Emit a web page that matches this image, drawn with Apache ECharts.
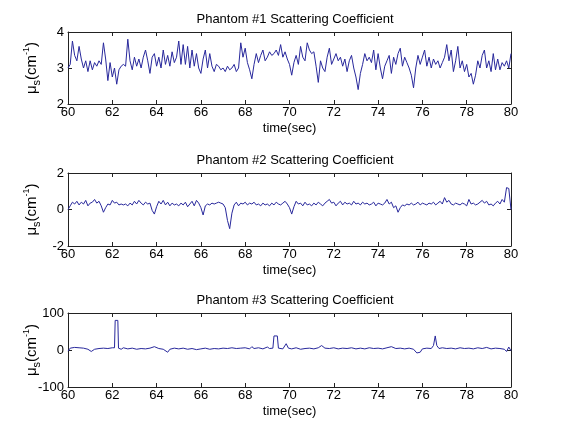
<!DOCTYPE html>
<html>
<head>
<meta charset="utf-8">
<script src="https://cdn.jsdelivr.net/npm/echarts@6/dist/echarts.min.js"></script>
<style>
  html, body { margin: 0; padding: 0; background: #fff; }
  #chart { width: 576px; height: 431px; }
</style>
</head>
<body>
<div id="chart"></div>
<script>
// sampling of panels 1 and 2 (seconds)
const tStart = 60;
const tStep = 0.1;

// Phantom #1, 60.0 .. 80.0 s
const phantom1 = [
  3.00, 3.10, 3.75, 3.35, 3.20, 3.60, 3.25, 3.00, 3.20, 2.90,
  3.20, 2.95, 3.15, 3.05, 3.20, 3.10, 3.70, 3.25, 2.65, 3.15,
  2.75, 3.00, 2.55, 2.95, 3.05, 3.10, 3.05, 3.80, 3.20, 2.95,
  3.30, 3.05, 3.25, 3.00, 3.30, 3.50, 3.20, 2.85, 3.30, 3.40,
  3.05, 3.30, 3.00, 3.50, 3.10, 3.35, 3.05, 3.45, 3.15, 3.30,
  3.75, 3.10, 3.65, 3.10, 3.60, 3.00, 3.50, 3.05, 3.40, 3.00,
  2.85, 3.25, 3.50, 3.00, 3.40, 3.05, 2.90, 3.10, 3.05, 2.95,
  3.00, 2.90, 3.05, 2.95, 3.00, 3.10, 2.90, 3.00, 3.70, 3.30,
  3.55, 3.15, 2.95, 2.70, 3.10, 3.40, 3.15, 3.35, 3.50, 3.20,
  3.30, 3.45, 3.35, 3.40, 3.50, 3.35, 3.65, 3.30, 3.45, 3.25,
  3.10, 2.80, 3.15, 3.35, 3.10, 3.60, 3.30, 3.20, 3.70, 3.50,
  3.40, 3.45, 3.05, 2.60, 3.20, 3.00, 2.90, 3.30, 3.55, 3.10,
  3.25, 3.40, 3.20, 3.30, 3.05, 3.25, 2.90, 3.20, 3.35, 3.00,
  2.75, 2.40, 2.85, 3.10, 3.40, 3.20, 3.30, 3.15, 3.50, 2.95,
  3.40, 3.00, 2.70, 3.05, 3.20, 3.35, 2.85, 3.30, 3.10, 3.40,
  3.55, 3.05, 3.30, 3.15, 3.00, 2.80, 2.45, 3.00, 3.35, 3.10,
  3.30, 3.50, 3.05, 3.30, 3.00, 3.25, 3.10, 3.20, 3.00, 3.15,
  3.30, 3.65, 3.20, 3.50, 2.90, 3.20, 3.60, 3.00, 3.20, 2.90,
  3.10, 2.75, 2.85, 2.55, 2.80, 3.20, 3.00, 3.35, 3.50, 3.00,
  3.20, 2.90, 3.40, 2.95, 3.25, 2.95, 3.15, 3.05, 3.20, 3.00,
  3.40
];

// Phantom #2, 60.0 .. 80.0 s
const phantom2 = [
  0.00, 0.20, 0.40, 0.30, 0.45, 0.25, 0.40, 0.30, 0.50, 0.20,
  0.35, 0.40, 0.55, 0.35, 0.45, 0.20, -0.15, 0.10, 0.30, 0.25,
  0.50, 0.35, 0.40, 0.25, 0.30, 0.25, 0.30, 0.20, 0.35, 0.25,
  0.45, 0.30, 0.50, 0.35, 0.25, 0.40, 0.30, 0.35, -0.05, -0.25,
  0.15, 0.45, 0.30, 0.50, 0.25, 0.40, 0.20, 0.35, 0.25, 0.30,
  0.20, 0.35, 0.25, 0.40, 0.15, 0.30, 0.45, 0.20, 0.50, 0.35,
  0.10, -0.30, 0.20, 0.30, 0.25, 0.35, 0.30, 0.35, 0.40, 0.35,
  0.30, 0.10, -0.60, -1.05, -0.20, 0.25, 0.40, 0.20, 0.35, 0.30,
  0.40, 0.25, 0.35, 0.30, 0.40, 0.25, 0.30, 0.20, 0.35, 0.25,
  0.30, 0.20, 0.35, 0.25, 0.40, 0.30, 0.25, 0.35, 0.45, 0.30,
  0.10, -0.25, 0.15, 0.45, 0.30, 0.35, 0.20, 0.40, 0.25, 0.30,
  0.20, 0.35, 0.25, 0.40, 0.30, 0.20, 0.35, 0.45, 0.55, 0.35,
  0.40, 0.20, 0.35, 0.45, 0.25, 0.40, 0.30, 0.35, 0.25, 0.45,
  0.30, 0.35, 0.25, 0.40, 0.30, 0.35, 0.25, 0.30, 0.40, 0.20,
  0.35, 0.30, 0.25, 0.35, 0.55, 0.30, 0.40, 0.10, 0.20, -0.15,
  0.10, 0.25, 0.20, 0.30, 0.25, 0.35, 0.25, 0.30, 0.40, 0.25,
  0.35, 0.30, 0.25, 0.35, 0.30, 0.40, 0.25, 0.35, 0.45, 0.30,
  0.65, 0.40, 0.50, 0.30, 0.25, 0.35, 0.30, 0.25, 0.35, 0.30,
  0.20, 0.55, 0.30, 0.35, 0.25, 0.30, 0.40, 0.50, 0.35, 0.45,
  0.25, 0.30, 0.20, 0.35, 0.45, 0.30, 0.55, 0.40, 1.20, 1.15,
  0.00
];

// Phantom #3, irregular sample times
const time3 = [
  60.0, 60.05, 60.1, 60.3, 60.5, 60.7, 60.9, 61.05, 61.2, 61.4,
  61.6, 61.8, 62.0, 62.1, 62.13, 62.25, 62.28, 62.4, 62.5, 62.7,
  62.9, 63.1, 63.3, 63.5, 63.7, 63.9, 64.1, 64.3, 64.5, 64.6,
  64.8, 65.0, 65.2, 65.4, 65.6, 65.8, 66.0, 66.2, 66.4, 66.6,
  66.8, 67.0, 67.2, 67.4, 67.6, 67.8, 68.0, 68.2, 68.3, 68.4,
  68.6, 68.8, 69.0, 69.1, 69.25, 69.3, 69.45, 69.5, 69.7, 69.85,
  69.95, 70.1, 70.3, 70.5, 70.7, 70.9, 71.1, 71.3, 71.45, 71.6,
  71.8, 72.0, 72.2, 72.4, 72.6, 72.8, 73.0, 73.2, 73.4, 73.6,
  73.8, 74.0, 74.2, 74.4, 74.6, 74.8, 75.0, 75.2, 75.4, 75.6,
  75.75, 75.9, 76.0, 76.2, 76.4, 76.5, 76.58, 76.65, 76.75, 76.9,
  77.1, 77.3, 77.5, 77.7, 77.9, 78.1, 78.3, 78.5, 78.7, 78.9,
  79.1, 79.3, 79.5, 79.7, 79.8, 79.9, 80.0
];
const phantom3 = [
  -3, -2, 5, 7, 6, 5, 2, -4, 2, 4,
  5, 4, 6, 6, 80, 80, 5, 2, 6, 3,
  5, 2, 4, 3, 5, 9, 4, 2, -6, 2,
  5, 3, 5, 2, 4, 1, 3, 5, 2, 4,
  3, 5, 4, 6, 4, 5, 6, 3, 9, 4,
  6, 3, 8, 4, 5, 38, 38, 5, 3, 17,
  5, 3, 6, 2, 4, 5, 3, 6, 12, 5,
  4, 6, 3, 5, 4, 6, 3, 5, 3, 6,
  4, 5, 3, 6, 9, 4, 5, 3, 5, 2,
  -8, -6, 3, 5, 4, 12, 38, 12, 4, 6,
  4, 5, 3, 6, 4, 5, 3, 6, 4, 7,
  3, 5, 4, 2, -4, 8, -2
];

const titles = [
  'Phantom #1 Scattering Coefficient',
  'Phantom #2 Scattering Coefficient',
  'Phantom #3 Scattering Coefficient'
];
const yRanges = [[2, 4, 1], [-2, 2, 2], [-100, 100, 100]];

const uniform = vals => vals.map((v, i) => [+(tStart + i * tStep).toFixed(2), v]);
const seriesData = [
  uniform(phantom1),
  uniform(phantom2),
  time3.map((t, i) => [t, phantom3[i]])
];

const gridTops = [32, 173, 313];
const gridHeights = [72, 73, 74];
const titleTops = [8, 149, 289];

const font = 'Liberation Sans, Arial, sans-serif';
const lineColor = '#222';
const blue = '#28289c';

const chart = echarts.init(document.getElementById('chart'));

const grid = [], xAxis = [], yAxis = [], series = [], title = [];
for (let i = 0; i < 3; i++) {
  grid.push({ left: 68, right: 65, top: gridTops[i], height: gridHeights[i] });
  title.push({
    text: titles[i], left: 290, top: titleTops[i], textAlign: 'center',
    textStyle: { fontFamily: font, fontSize: 13, fontWeight: 'normal', color: '#000' }
  });
  // bottom axis with labels
  xAxis.push({
    gridIndex: i, type: 'value', min: 60, max: 80, interval: 2, position: 'bottom',
    name: 'time(sec)', nameLocation: 'middle', nameGap: 18,
    nameTextStyle: { fontFamily: font, fontSize: 13, color: '#000' },
    axisLine: { onZero: false, lineStyle: { color: lineColor } },
    axisTick: { inside: true, length: 4, lineStyle: { color: lineColor } },
    axisLabel: { fontFamily: font, fontSize: 13, color: '#000', margin: 2 },
    splitLine: { show: false }
  });
  // top mirror axis
  xAxis.push({
    gridIndex: i, type: 'value', min: 60, max: 80, interval: 2, position: 'top',
    axisLine: { onZero: false, lineStyle: { color: lineColor } },
    axisTick: { inside: true, length: 4, lineStyle: { color: lineColor } },
    axisLabel: { show: false }, splitLine: { show: false }
  });
  const [ymin, ymax, yint] = yRanges[i];
  yAxis.push({
    gridIndex: i, type: 'value', min: ymin, max: ymax, interval: yint, position: 'left',
    name: '{a|μ}{s|s}{a|(cm}{p|-1}{a|)}', nameLocation: 'middle', nameGap: 26, nameRotate: 90,
    nameMoveOverlap: false,
    nameTextStyle: {
      rich: {
        a: { fontFamily: font, fontSize: 15, color: '#000' },
        s: { fontFamily: font, fontSize: 11, color: '#000', verticalAlign: 'bottom', padding: [9, 0, 0, 0] },
        p: { fontFamily: font, fontSize: 9, color: '#000', verticalAlign: 'top', padding: [0, 0, 7, 0] }
      }
    },
    axisLine: { onZero: false, lineStyle: { color: lineColor } },
    axisTick: { inside: true, length: 4, lineStyle: { color: lineColor } },
    axisLabel: { fontFamily: font, fontSize: 13, color: '#000', margin: 4 },
    splitLine: { show: false }
  });
  yAxis.push({
    gridIndex: i, type: 'value', min: ymin, max: ymax, interval: yint, position: 'right',
    axisLine: { onZero: false, lineStyle: { color: lineColor } },
    axisTick: { inside: true, length: 4, lineStyle: { color: lineColor } },
    axisLabel: { show: false }, splitLine: { show: false }
  });
  series.push({
    type: 'line', xAxisIndex: i * 2, yAxisIndex: i * 2, data: seriesData[i],
    showSymbol: false, symbol: 'none', lineStyle: { color: blue, width: 1 },
    animation: false
  });
}

chart.setOption({
  animation: false,
  backgroundColor: '#fff',
  title, grid, xAxis, yAxis, series
});
</script>
</body>
</html>
